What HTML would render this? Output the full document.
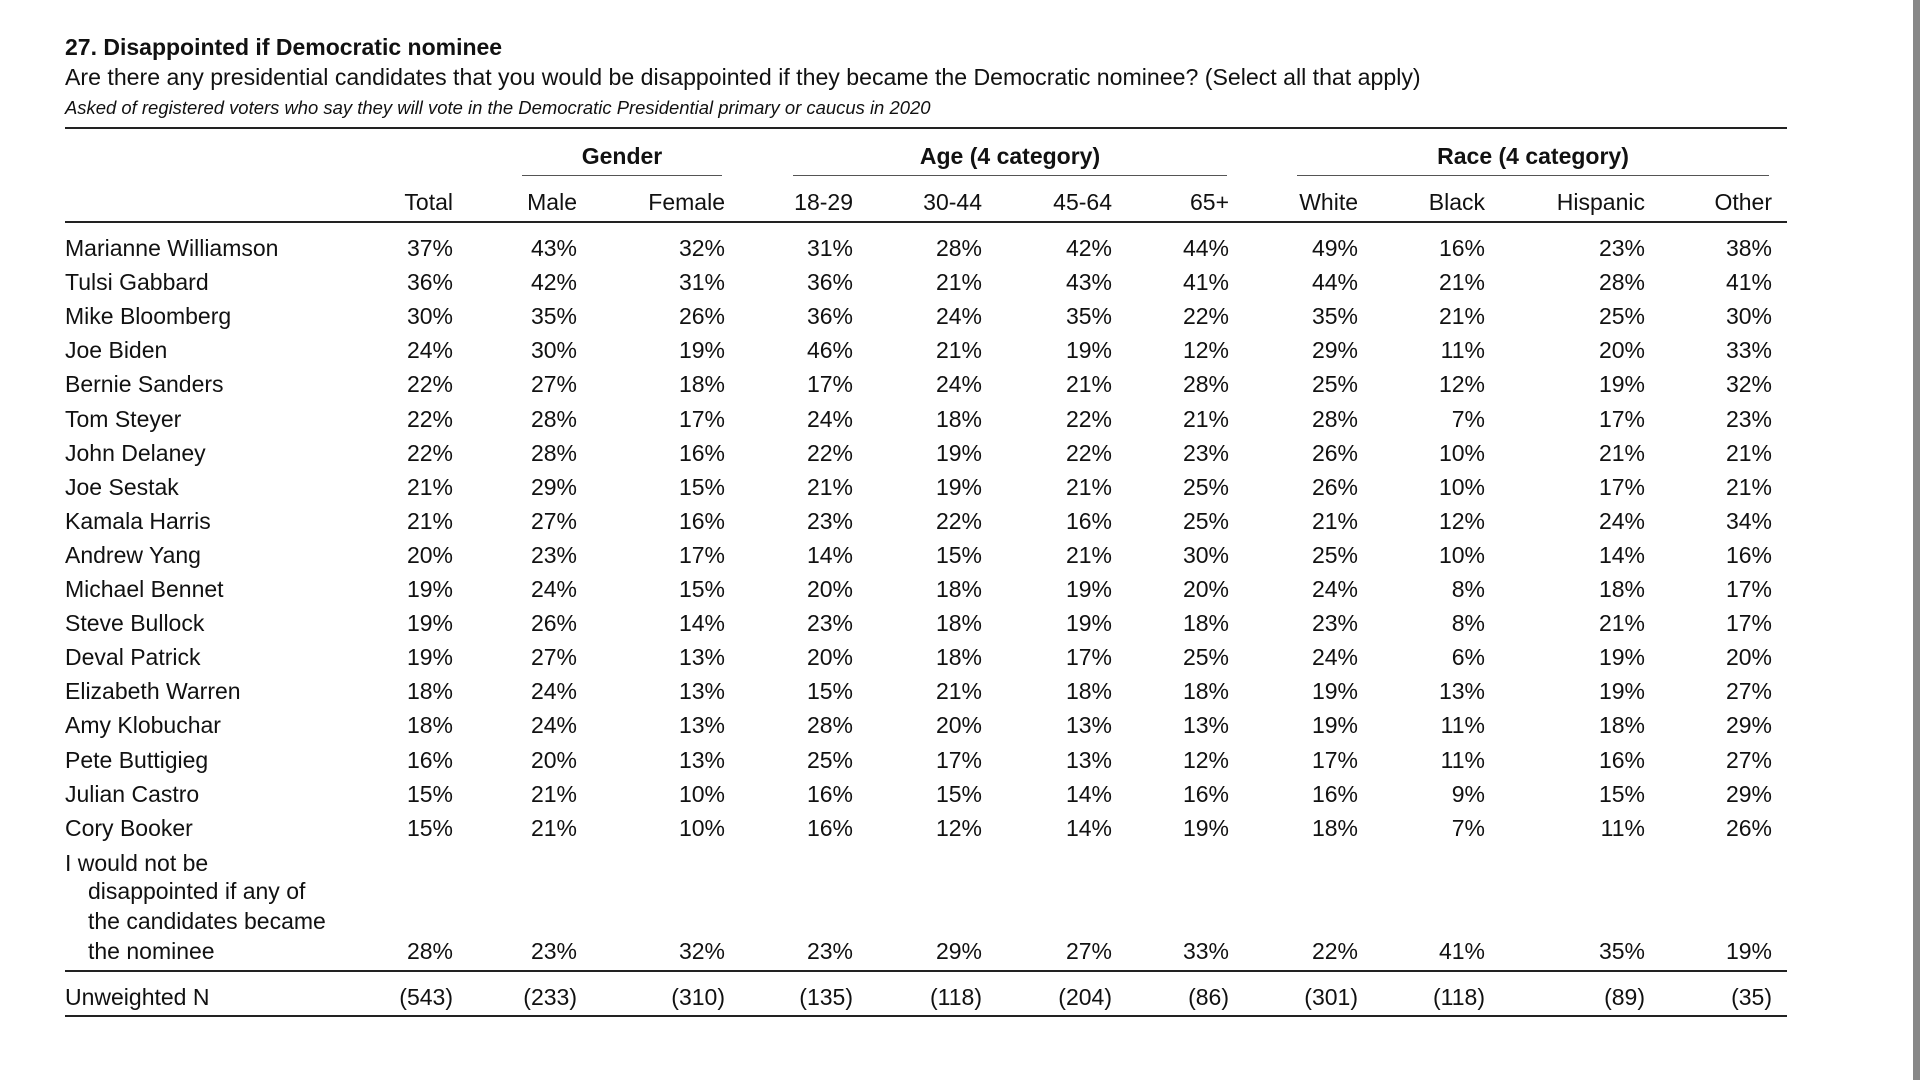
<!DOCTYPE html>
<html><head><meta charset="utf-8"><style>
body{margin:0;width:1920px;height:1080px;background:#fff;position:relative;overflow:hidden;font-family:"Liberation Sans",Arial,sans-serif;color:#111}
.t{position:absolute;white-space:nowrap;font-size:23px;line-height:22px}
.r{position:absolute;white-space:nowrap;font-size:23px;line-height:22px;text-align:right;width:200px}
.h{position:absolute;background:#222}
.b{font-weight:bold}
</style></head><body>
<div class="t b" style="left:65px;top:36px">27. Disappointed if Democratic nominee</div>
<div class="t" style="left:65px;top:66px;transform:scaleX(1.005);transform-origin:0 0">Are there any presidential candidates that you would be disappointed if they became the Democratic nominee? (Select all that apply)</div>
<div class="t" style="left:65px;top:97px;font-size:18px;font-style:italic;transform:scaleX(1.025);transform-origin:0 0">Asked of registered voters who say they will vote in the Democratic Presidential primary or caucus in 2020</div>
<div class="h" style="left:65px;top:127px;width:1722px;height:2px"></div>
<div class="h" style="left:65px;top:221px;width:1722px;height:2px"></div>
<div class="h" style="left:65px;top:970px;width:1722px;height:2px"></div>
<div class="h" style="left:65px;top:1015px;width:1722px;height:2px"></div>
<div class="h" style="left:522px;top:175px;width:200px;height:1px;background:#555"></div>
<div class="h" style="left:793px;top:175px;width:434px;height:1px;background:#555"></div>
<div class="h" style="left:1297px;top:175px;width:472px;height:1px;background:#555"></div>
<div class="t b" style="left:522px;width:200px;text-align:center;top:145px">Gender</div>
<div class="t b" style="left:793px;width:434px;text-align:center;top:145px">Age (4 category)</div>
<div class="t b" style="left:1297px;width:472px;text-align:center;top:145px">Race (4 category)</div>
<div id="g"></div>
<div class="t" style="left:1913px;top:0;width:7px;height:1080px;background:#888"></div>
<script>
var cols=[453,577,725,853,982,1112,1229,1358,1485,1645,1772];
var hdr=["Total","Male","Female","18-29","30-44","45-64","65+","White","Black","Hispanic","Other"];
var rows=[
["Marianne Williamson","37 43 32 31 28 42 44 49 16 23 38"],
["Tulsi Gabbard","36 42 31 36 21 43 41 44 21 28 41"],
["Mike Bloomberg","30 35 26 36 24 35 22 35 21 25 30"],
["Joe Biden","24 30 19 46 21 19 12 29 11 20 33"],
["Bernie Sanders","22 27 18 17 24 21 28 25 12 19 32"],
["Tom Steyer","22 28 17 24 18 22 21 28 7 17 23"],
["John Delaney","22 28 16 22 19 22 23 26 10 21 21"],
["Joe Sestak","21 29 15 21 19 21 25 26 10 17 21"],
["Kamala Harris","21 27 16 23 22 16 25 21 12 24 34"],
["Andrew Yang","20 23 17 14 15 21 30 25 10 14 16"],
["Michael Bennet","19 24 15 20 18 19 20 24 8 18 17"],
["Steve Bullock","19 26 14 23 18 19 18 23 8 21 17"],
["Deval Patrick","19 27 13 20 18 17 25 24 6 19 20"],
["Elizabeth Warren","18 24 13 15 21 18 18 19 13 19 27"],
["Amy Klobuchar","18 24 13 28 20 13 13 19 11 18 29"],
["Pete Buttigieg","16 20 13 25 17 13 12 17 11 16 27"],
["Julian Castro","15 21 10 16 15 14 16 16 9 15 29"],
["Cory Booker","15 21 10 16 12 14 19 18 7 11 26"]];
var h="";
function cell(x,y,s){return '<div class="r" style="left:'+(x-200)+'px;top:'+y+'px">'+s+'</div>';}
hdr.forEach(function(s,i){h+=cell(cols[i],191,s);});
rows.forEach(function(r,j){var y=237+j*34.1;h+='<div class="t" style="left:65px;top:'+y+'px">'+r[0]+'</div>';
r[1].split(" ").forEach(function(v,i){h+=cell(cols[i],y,v+"%");});});
var ls=["I would not be","disappointed if any of","the candidates became","the nominee"];
var ly=[852,880,910,940];
ls.forEach(function(s,i){h+='<div class="t" style="left:'+(i?88:65)+'px;top:'+ly[i]+'px">'+s+'</div>';});
"28 23 32 23 29 27 33 22 41 35 19".split(" ").forEach(function(v,i){h+=cell(cols[i],940,v+"%");});
h+='<div class="t" style="left:65px;top:986px">Unweighted N</div>';
"543 233 310 135 118 204 86 301 118 89 35".split(" ").forEach(function(v,i){h+=cell(cols[i],986,"("+v+")");});
document.getElementById("g").innerHTML=h;
</script>
</body></html>
